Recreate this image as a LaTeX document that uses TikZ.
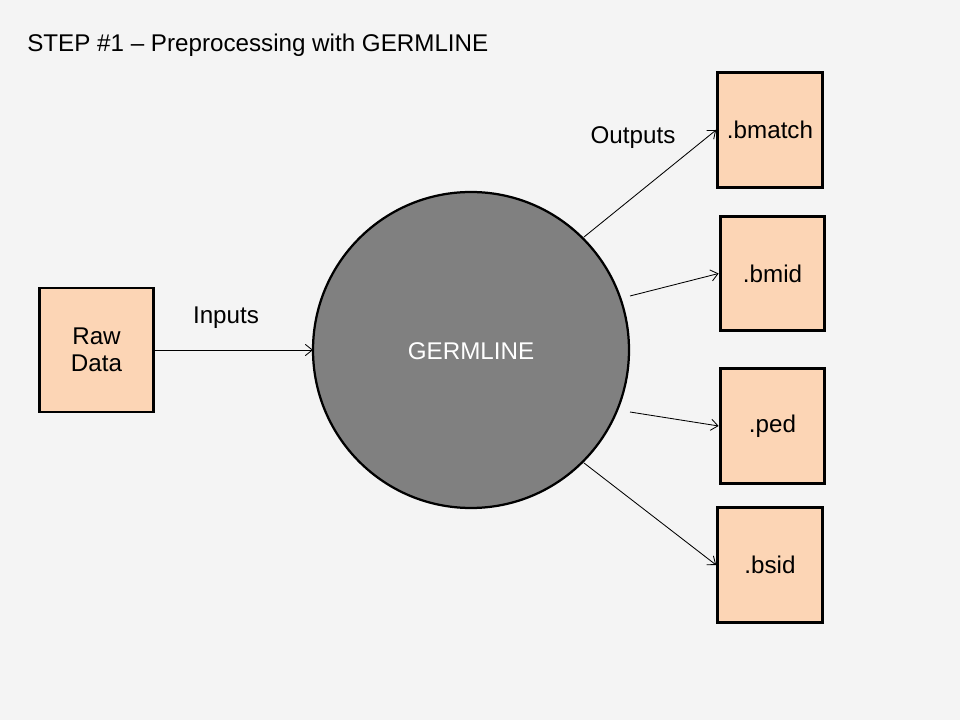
\documentclass[tikz,border=0pt]{standalone}
\usepackage{fontspec}
\setmainfont{Liberation Sans}
\usepackage{tikz}
\usetikzlibrary{positioning}
\usetikzlibrary{arrows.meta}
\usetikzlibrary{math}
\usetikzlibrary{calc}

\definecolor{slidebg}{HTML}{F4F4F4}
\definecolor{peach}{HTML}{FCD5B5}
\definecolor{discgray}{HTML}{808080}

\tikzset{
  filebox/.style={draw=black, fill=peach, line width=2.1pt, minimum width=2.62cm,
    minimum height=2.87cm, inner sep=0pt, align=center, font=\fontsize{17.2}{19.5}\selectfont},
  flow/.style={line width=0.6pt, -{Straight Barb[length=5pt,width=8pt]}},
  lbl/.style={font=\fontsize{17.2}{19.5}\selectfont, inner sep=0pt}
}

\begin{document}
\begin{tikzpicture}[x=0.025cm,y=-0.025cm]

  \tikzmath{
    \radius = 158; % radius of the GERMLINE disc in px
  }

  % Slide background
  \fill[slidebg] (0,0) rectangle (960,720);
  \useasboundingbox (0,0) rectangle (960,720);

  % Title
  \node[lbl, anchor=west] (title) at (27,45) {STEP \#1 -- Preprocessing with GERMLINE};

  % Input file
  \node[filebox, minimum width=2.83cm, minimum height=3.1cm] (raw) at (96.5,350) {Raw\\Data};

  % Central tool
  \draw[fill=discgray, line width=1.6pt] (471,350) circle (\radius);
  \node[lbl, text=white] (germ) at (471,351) {GERMLINE};
  \coordinate (rimW)  at ($(471,350)+(-\radius,0)$);
  \coordinate (rimNE) at (584,237);
  \coordinate (rimE1) at (630,296);
  \coordinate (rimE2) at (630,412);
  \coordinate (rimSE) at (584,463);

  % Output files
  \node[filebox] (bmatch) at (770,130) {.bmatch};
  \node[filebox] (bmid)   at (772.5,273.5) {.bmid};
  \node[filebox] (ped)    at (772.5,426) {.ped};
  \node[filebox] (bsid)   at (770,565) {.bsid};

  % Connectors
  \draw[flow] (raw.east) -- (rimW);
  \node[lbl] (inlbl) at (226,318) {Inputs};

  \draw[flow] (rimNE) -- (bmatch.west);
  \draw[flow] (rimE1) -- (bmid.west);
  \draw[flow] (rimE2) -- (ped.west);
  \draw[flow] (rimSE) -- (bsid.west);
  \node[lbl] (outlbl) at (633,138) {Outputs};

\end{tikzpicture}
\end{document}
